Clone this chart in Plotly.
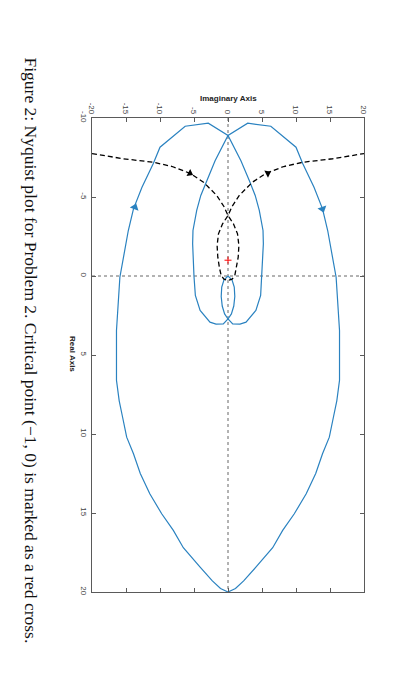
import plotly.graph_objects as go

# ---------------- data ----------------
# One Nyquist branch (Re, Im), from the origin to G = 20; the other branch is its conjugate.
branch_re = [0.0, 0.25, 0.7, 1.3, 1.9, 2.4, 2.72, 3.03, 3.04, 2.92, 2.18, 1.23, 0.03, -2.04,
             -2.88, -4.15, -5.1, -6.04, -7.3, -8.89, -9.67, -9.48, -8.15, -7.1, -5.62, -4.25,
             -2.88, 0.08, 3.45, 6.6, 7.9, 8.94, 10.2, 11.25, 12.5, 13.78, 15.05, 16.1, 17.2,
             18.43, 19.3, 19.78, 20.0]
branch_im = [0.0, 0.6, 0.92, 1.0, 0.85, 0.5, 0.0, -0.69, -1.76, -2.65, -4.1, -4.8, -5.0, -5.2,
             -5.15, -4.6, -4.0, -3.13, -1.9, 0.0, 2.9, 6.3, 10.0, 11.0, 12.65, 13.9,
             14.66, 15.9, 16.4, 16.4, 16.0, 15.5, 14.9, 13.9, 12.9, 11.5, 9.75, 8.04, 6.57,
             4.1, 2.3, 1.1, 0.0]

# Dashed detour curve: half from the left edge to the origin; other half is its conjugate.
detour_re = [-7.75, -7.42, -7.2, -6.93, -6.5, -5.94, -5.1, -4.4, -3.83, -3.3, -2.67, -1.93,
             -1.19, -0.5, -0.03, 0.2, 0.28]
detour_im = [-20.0, -15.4, -11.0, -8.2, -5.6, -3.6, -1.66, -0.6, 0.0, 0.8, 1.4, 1.6,
             1.5, 1.25, 1.0, 0.6, 0.0]

# Direction arrows
blue_arrow_re = [-4.35, -4.25]
blue_arrow_im = [-13.7, 13.9]
blue_arrow_angle = [20, 162]
black_arrow_re = [-6.5, -6.5]
black_arrow_im = [-5.6, 5.84]
black_arrow_angle = [117, 63]

critical_re = [-1.0]
critical_im = [0.0]

imag_ticks = [-20, -15, -10, -5, 0, 5, 10, 15, 20]
imag_ticktext = ["-20", "-15", "-10", "-5", "0", "5", "10", "15", "20"]
real_ticks = [-10, -5, 0, 5, 10, 15, 20]
real_ticktext = ["-10", "-5", "0", "5", "10", "15", "20"]

caption = "Figure 2: Nyquist plot for Problem 2. Critical point (\u22121, 0) is marked as a red cross."

# ---------------- build curves ----------------
full_re = branch_re + branch_re[::-1]
full_im = branch_im + [-v for v in branch_im[::-1]]
dash_re = detour_re + detour_re[::-1]
dash_im = detour_im + [-v for v in detour_im[::-1]]

BLUE = "#2a82c0"
AX = "#5a5a5a"
FONT = "Liberation Sans, Arial, Helvetica, sans-serif"

fig = go.Figure()
fig.add_trace(go.Scatter(x=full_im, y=full_re, mode="lines",
                         line=dict(color=BLUE, width=1.2), hoverinfo="skip"))
fig.add_trace(go.Scatter(x=dash_im, y=dash_re, mode="lines",
                         line=dict(color="black", width=1.3, dash="5px,3px"), hoverinfo="skip"))
fig.add_trace(go.Scatter(x=blue_arrow_im, y=blue_arrow_re, mode="markers",
                         marker=dict(symbol="triangle-up", size=8, color=BLUE,
                                     angle=blue_arrow_angle, line=dict(width=0))))
fig.add_trace(go.Scatter(x=black_arrow_im, y=black_arrow_re, mode="markers",
                         marker=dict(symbol="triangle-up", size=7, color="black",
                                     angle=black_arrow_angle, line=dict(width=0))))
fig.add_trace(go.Scatter(x=critical_im, y=critical_re, mode="markers",
                         marker=dict(symbol="cross-thin", size=5, color="red",
                                     line=dict(color="red", width=1))))

# dotted zero lines
fig.add_shape(type="line", xref="x", yref="y", x0=0, x1=0, y0=-10, y1=20,
              line=dict(color="#666", width=1, dash="dot"), layer="below")
fig.add_shape(type="line", xref="x", yref="y", x0=-20, x1=20, y0=0, y1=0,
              line=dict(color="#666", width=1, dash="dot"), layer="below")

axis_common = dict(showgrid=False, zeroline=False, showline=True, linecolor=AX, linewidth=1,
                   mirror="ticks", ticks="inside", ticklen=4, tickcolor=AX, tickangle=90,
                   tickfont=dict(family=FONT, size=8, color="#444"))

# page body has an 8px margin, so the figure is drawn 8px in from the window's edge
fig.update_layout(
    width=388, height=692,
    margin=dict(l=84, r=32, t=110, b=108),
    paper_bgcolor="white", plot_bgcolor="white",
    showlegend=False,
    xaxis=dict(range=[-20, 20], side="top", tickmode="array", tickvals=imag_ticks,
               ticktext=imag_ticktext, **axis_common),
    yaxis=dict(range=[20, -10], tickmode="array", tickvals=real_ticks,
               ticktext=real_ticktext, **axis_common),
)

fig.add_annotation(text="<b>Imaginary Axis</b>", xref="paper", yref="paper", x=0.5, y=1.042,
                   showarrow=False, font=dict(family=FONT, size=8, color="#222"),
                   xanchor="center", yanchor="middle")
fig.add_annotation(text="<b>Real Axis</b>", xref="paper", yref="paper", x=-0.07, y=0.502,
                   showarrow=False, textangle=90, font=dict(family=FONT, size=8, color="#222"),
                   xanchor="center", yanchor="middle")
fig.add_annotation(text=caption, xref="paper", yref="paper", x=-0.225, y=0.51,
                   showarrow=False, textangle=90,
                   font=dict(family="Liberation Serif, Times New Roman, serif", size=17.5, color="#111"),
                   xanchor="center", yanchor="middle")

fig.write_html("out.html")
